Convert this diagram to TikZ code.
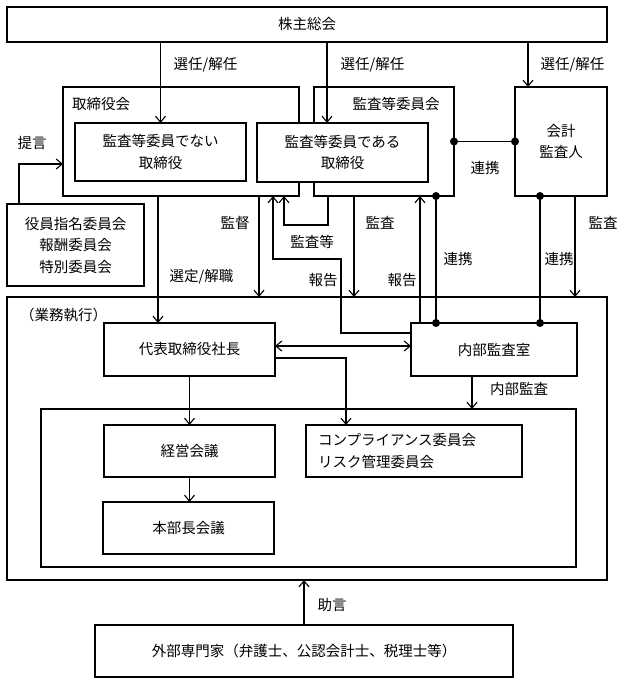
\documentclass[tikz,border=0pt]{standalone}
\usepackage{fontspec}
\setmainfont{Noto Sans CJK JP}
\usetikzlibrary{arrows.meta}

\begin{document}
\begin{tikzpicture}[x=1pt, y=-1pt, line width=1.1pt,
  every node/.style={font=\fontsize{14.5}{21.5}\selectfont, inner sep=0pt, outer sep=0pt},
  box/.style 2 args={draw, fill=white, align=center, minimum width=#1pt, minimum height=#2pt},
  >={Straight Barb[length=6pt, width=10pt]}]
\useasboundingbox (0,0) rectangle (623,683);

\node[box={600}{35}] (agm) at (307,24.5) {株主総会};
\node[box={236}{109}] (board) at (181,141.5) {};
\node[box={140}{109}] (acom) at (384,141.5) {};
\node[anchor=west] (boardlbl) at (72,104) {取締役会};
\node (acomlbl) at (396,104) {監査等委員会};
\node[box={171}{58}] (nonaud) at (160.5,152) {監査等委員でない\\取締役};
\node[box={171}{59}] (aud) at (342.5,152.5) {監査等委員である\\取締役};
\node[box={92}{109}] (cpa) at (561,141.5) {会計\\監査人};
\node[box={137}{82}] (nomi) at (75.5,245) {役員指名委員会\\報酬委員会\\特別委員会};

\node[box={600}{283}] (exec) at (307,438.5) {};
\node[anchor=west] (execlbl) at (20,315) {（業務執行）};
\node[box={171}{53}] (ceo) at (189.5,349.5) {代表取締役社長};
\node[box={166}{53}] (ia) at (494,349.5) {内部監査室};
\node[box={535}{158}] (inner) at (308.5,488) {};
\node[box={171}{52}] (keiei) at (189.5,451) {経営会議};
\node[box={171}{52}] (honbu) at (188.5,528) {本部長会議};
\node[box={216}{52}, align=left, text width=192pt] (comp) at (414,451) {コンプライアンス委員会\\リスク管理委員会};
\node[box={418}{52}] (ext) at (304,651) {外部専門家（弁護士、公認会計士、税理士等）};

\draw[->] (nonaud.north |- agm.south) -- (nonaud.north);
\draw[->] ([xshift=-15.5pt]aud.north |- agm.south) -- ([xshift=-15.5pt]aud.north);
\draw[->] ([xshift=-33pt]cpa.north |- agm.south) -- ([xshift=-33pt]cpa.north);
\node (sel1) at (205.5,65) {選任/解任};
\node (sel2) at (372.5,65) {選任/解任};
\node (sel3) at (572.5,65) {選任/解任};

\draw (acom.east) -- (cpa.west);
\fill (acom.east) circle[radius=4pt];
\fill (cpa.west) circle[radius=4pt];
\node (coop1) at (485,168) {連携};

\draw[->] ([xshift=12pt]nomi.north west) |- ([yshift=-22.5pt]board.west);
\node (prop) at (32,143) {提言};

\draw[->] ([xshift=-31.5pt]ceo.north |- board.south) -- ([xshift=-31.5pt]ceo.north);
\node (appoint) at (201.5,277) {選定/解職};
\draw[->] ([xshift=-40pt]board.south east) -- ([xshift=-40pt]board.south east |- exec.north);
\node (superv) at (235,223) {監督};
\draw[->] ([xshift=14pt]acom.south west) -- ++(0,29) -| ([xshift=-15pt]board.south east);
\node (audetc) at (312,242) {監査等};
\draw[->] ([yshift=16.5pt]ia.west) -| ++(-70,-74) -| ([xshift=-26pt]board.south east);
\node (rep1) at (323,280) {報告};

\draw[->] ([xshift=40pt]acom.south west) -- ([xshift=40pt]acom.south west |- exec.north);
\node (aud1) at (380,223) {監査};
\draw[->] ([xshift=9pt]ia.north west) -- ([xshift=9pt]ia.north west |- acom.south);
\node (rep2) at (402,280) {報告};
\draw ([xshift=25pt]ia.north west |- acom.south) -- ([xshift=25pt]ia.north west);
\fill ([xshift=25pt]ia.north west |- acom.south) circle[radius=4pt];
\fill ([xshift=25pt]ia.north west) circle[radius=4pt];
\node (coop2) at (458,259) {連携};
\draw ([xshift=25pt]cpa.south west) -- ([xshift=25pt]cpa.south west |- ia.north);
\fill ([xshift=25pt]cpa.south west) circle[radius=4pt];
\fill ([xshift=25pt]cpa.south west |- ia.north) circle[radius=4pt];
\node (coop3) at (559,259) {連携};
\draw[->] ([xshift=-32pt]cpa.south east) -- ([xshift=-32pt]cpa.south east |- exec.north);
\node (aud2) at (603,223) {監査};

\draw[<->] ([yshift=3.5pt]ceo.east) -- ([yshift=3.5pt]ceo.east -| ia.west);
\draw[->] ([yshift=-8.5pt]ceo.east) -| ([xshift=40pt]comp.north west);
\draw[->] (ceo.south) -- (keiei.north);
\draw[->] (keiei.south) -- (keiei.south |- honbu.north);
\draw[->] ([xshift=-22pt]ia.south) -- ([xshift=-22pt]ia.south |- inner.north);
\node (intaud) at (519,389) {内部監査};

\draw[->] (ext.north) -- (ext.north |- exec.south);
\node (advice) at (332,605) {助言};
\end{tikzpicture}
\end{document}
